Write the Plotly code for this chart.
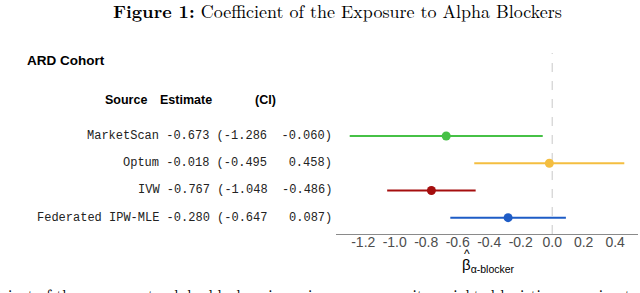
import plotly.graph_objects as go

# ---- data ----
sources = ["MarketScan", "Optum", "IVW", "Federated IPW-MLE"]
estimates = [-0.673, -0.018, -0.767, -0.280]
ci_low = [-1.286, -0.495, -1.048, -0.647]
ci_high = [-0.060, 0.458, -0.486, 0.087]
row_pos = [4, 3, 2, 1]
colors = ["#46C146", "#F4BE40", "#A50E0E", "#1E5CC6"]
tick_vals = [-1.2, -1.0, -0.8, -0.6, -0.4, -0.2, 0.0, 0.2, 0.4]
tick_text = ["-1.2", "-1.0", "-0.8", "-0.6", "-0.4", "-0.2", "0.0", "0.2", "0.4"]

W, H = 640, 293
L, R, T, B = 336, 2, 53, 59
pw = W - L - R
ph = H - T - B
YR = [0.4, 7.05]


def px_x(px):
    return (px - L) / pw


def px_y(py):
    return (H - B - py) / ph


def row_y(py):
    return YR[0] + (H - B - py) / ph * (YR[1] - YR[0])


fig = go.Figure()
for s, e, lo, hi, yv, c in zip(sources, estimates, ci_low, ci_high, row_pos, colors):
    fig.add_trace(go.Scatter(x=[lo, hi], y=[yv, yv], mode="lines",
                             line=dict(color=c, width=2), showlegend=False,
                             hoverinfo="skip"))
    fig.add_trace(go.Scatter(x=[e], y=[yv], mode="markers",
                             marker=dict(color=c, size=9), showlegend=False,
                             name=s))

mono = "Courier New, Courier, Liberation Mono, monospace"
annotations = []
for s, e, lo, hi, yv in zip(sources, estimates, ci_low, ci_high, row_pos):
    hi_s = f"{hi:.3f}"
    txt = f"{s} {e:.3f} ({lo:.3f} {hi_s:>7})"
    annotations.append(dict(x=px_x(334), y=yv, xref="paper", yref="y",
                            text=txt.replace(" ", "&nbsp;"), showarrow=False,
                            xanchor="right", yanchor="middle",
                            font=dict(family=mono, size=12, color="#222222")))

sans = "Liberation Sans, Arial, sans-serif"
hdr_font = dict(family=sans, size=12.5, color="#000000")
for txt, cx in [("<b>Source</b>", 126), ("<b>Estimate</b>", 185.5), ("<b>(CI)</b>", 265)]:
    annotations.append(dict(x=px_x(cx), y=row_y(100), xref="paper", yref="y",
                            text=txt, showarrow=False, xanchor="center", yanchor="middle",
                            font=hdr_font))
annotations.append(dict(x=px_x(25), y=row_y(60), xref="paper", yref="y",
                        text="<b>ARD Cohort</b>", showarrow=False, xanchor="left",
                        yanchor="middle",
                        font=dict(family=sans, size=13.5, color="#000000")))
# axis title
annotations.append(dict(x=px_x(488), y=px_y(265), xref="paper", yref="paper",
                        text="β<sub>α-blocker</sub>", showarrow=False,
                        xanchor="center", yanchor="middle",
                        font=dict(family=sans, size=15, color="#000000")))
annotations.append(dict(x=px_x(467), y=px_y(254), xref="paper", yref="paper",
                        text="^", showarrow=False,
                        xanchor="center", yanchor="middle",
                        font=dict(family=sans, size=12, color="#000000")))
serif = "Latin Modern Roman, CMU Serif, Liberation Serif, DejaVu Serif, serif"
annotations.append(dict(x=px_x(337), y=px_y(10), xref="paper", yref="paper",
                        text="<b>Figure 1:</b> Coefficient of the Exposure to Alpha Blockers",
                        showarrow=False, xanchor="center", yanchor="middle",
                        font=dict(family=serif, size=18, color="#000000")))
annotations.append(dict(x=px_x(641), y=px_y(294), xref="paper", yref="paper",
                        text="Coefficient of the exposure to alpha blockers in an inverse propensity-weighted logistic regression to",
                        showarrow=False, xanchor="right", yanchor="middle",
                        font=dict(family=serif, size=15.5, color="#000000")))

fig.update_layout(
    width=W, height=H,
    margin=dict(l=L, r=R, t=T, b=B, pad=0),
    paper_bgcolor="white", plot_bgcolor="white",
    annotations=annotations,
    shapes=[dict(type="line", x0=0, x1=0, xref="x", y0=0, y1=1, yref="paper",
                 line=dict(color="#C8C8C8", width=1, dash="dash"), layer="below")],
    xaxis=dict(range=[-1.373, 0.545], tickvals=tick_vals, ticktext=tick_text,
               showgrid=False, zeroline=False, showline=True, linecolor="#8A8A8A",
               linewidth=1, ticks="", ticklabelstandoff=-5,
               tickfont=dict(family=sans, size=14, color="#4D4D4D")),
    yaxis=dict(range=YR, showgrid=False, zeroline=False, showline=False,
               showticklabels=False, ticks=""),
)

fig.write_html("out.html", config={"displayModeBar": False},
               post_script="document.body.style.margin='0';document.body.style.padding='0';")
